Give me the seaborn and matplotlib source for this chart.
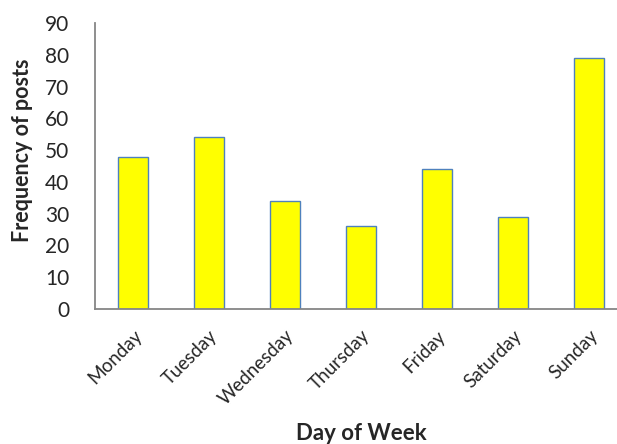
import matplotlib
matplotlib.use("Agg")
import matplotlib.pyplot as plt
import seaborn as sns
import pandas as pd
import numpy as np

days = ['Monday', 'Tuesday', 'Wednesday', 'Thursday', 'Friday', 'Saturday', 'Sunday']
posts = [48, 54, 34, 26, 44, 29, 79]
y_ticks = list(range(0, 100, 10))

df = pd.DataFrame({'day': days, 'posts': posts})

sns.set_style('white')
plt.rcParams['font.family'] = ['Lato', 'DejaVu Sans']

fig = plt.figure(figsize=(6.17, 4.44), dpi=100)
# axis runs a little past the right edge of the image, like the original
ax = fig.add_axes([0.154, 0.304, 0.862, 0.644])

sns.barplot(data=df, x='day', y='posts', ax=ax, color='#FFFF00', width=0.4,
            edgecolor='#4F81BD', linewidth=1.0, saturation=1)

ax.set_ylim(0, 90)
ax.set_xlim(-0.5, len(days) - 0.5)
ax.set_yticks(y_ticks)
ax.set_yticklabels([str(v) for v in y_ticks], fontsize=15)

# category labels at centres, tick marks at boundaries
ax.set_xticks(np.arange(len(days)) - 0.5)
ax.set_xticklabels([])
ax.set_xticks(np.arange(len(days)), minor=True)
ax.set_xticklabels(days, minor=True, rotation=45, ha='right', rotation_mode='anchor',
                   fontsize=13.5)
ax.tick_params(axis='x', which='minor', length=0, pad=13)
ax.tick_params(axis='x', which='major', length=6.5, color='#868686', direction='out', width=1)
ax.tick_params(axis='y', length=6.5, color='#868686', direction='out', width=1, pad=12)

for side in ['top', 'right']:
    ax.spines[side].set_visible(False)
for side in ['left', 'bottom']:
    ax.spines[side].set_color('#868686')
    ax.spines[side].set_linewidth(1.3)

ax.set_xlabel('Day of Week', fontsize=16, fontweight='bold', va='center')
ax.xaxis.set_label_coords(0.5, -0.434)
ax.set_ylabel('Frequency of posts', fontsize=15.5, fontweight='bold', va='center')
ax.yaxis.set_label_coords(-0.137, 0.556)

fig.savefig('out.png', dpi=100)
